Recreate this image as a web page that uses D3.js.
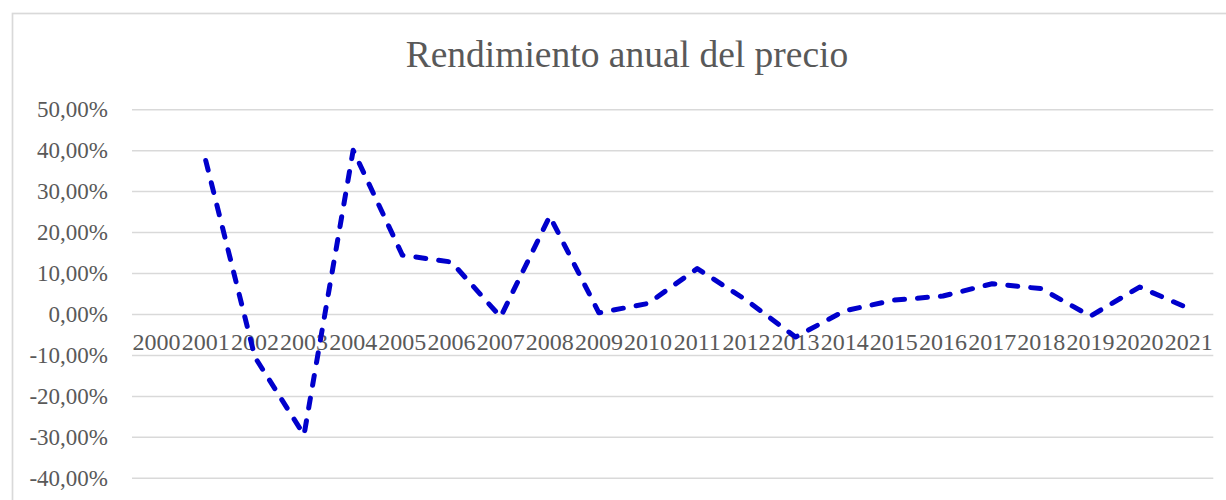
<!DOCTYPE html>
<html>
<head>
<meta charset="utf-8">
<script src="https://cdn.jsdelivr.net/npm/d3@7"></script>
<style>
  body { margin: 0; background: #fff; }
  svg { display: block; font-family: "Liberation Serif", "Times New Roman", serif; }
</style>
</head>
<body>
<svg width="1226" height="500"></svg>
<script>
// datos del grafico
const years = ["2000","2001","2002","2003","2004","2005","2006","2007","2008","2009","2010",
               "2011","2012","2013","2014","2015","2016","2017","2018","2019","2020","2021"];
const returns = [null, 0.376, -0.104, -0.294, 0.401, 0.145, 0.128, -0.006, 0.240, 0.004, 0.027,
                 0.112, 0.035, -0.055, 0.009, 0.035, 0.045, 0.075, 0.063, -0.004, 0.067, 0.015];
const yTicks = [-0.4, -0.3, -0.2, -0.1, 0, 0.1, 0.2, 0.3, 0.4, 0.5];
const title = "Rendimiento anual del precio";

const svg = d3.select("svg");

// marco del grafico (se sale del recorte por la derecha y abajo)
svg.append("rect")
    .attr("x", 12.5).attr("y", 13.5)
    .attr("width", 1240).attr("height", 520)
    .attr("fill", "#fff")
    .attr("stroke", "#d9d9d9")
    .attr("stroke-width", 1.7);

const x = d3.scaleBand().domain(years).range([132, 1213.3]).paddingInner(0).paddingOuter(0);
const y = d3.scaleLinear().domain([-0.4, 0.5]).range([478.3, 109.7]);

const fmt = v => d3.format(".2f")(v * 100).replace(".", ",").replace("\u2212", "-") + "%";

// lineas de cuadricula
svg.append("g")
    .selectAll("line")
    .data(yTicks)
    .enter()
    .append("line")
    .attr("x1", 132).attr("x2", 1213.3)
    .attr("y1", d => y(d)).attr("y2", d => y(d))
    .attr("stroke", "#d9d9d9")
    .attr("stroke-width", 1.5);

// etiquetas eje Y
svg.append("g")
    .selectAll("text")
    .data(yTicks)
    .enter()
    .append("text")
    .attr("x", 108)
    .attr("y", d => y(d))
    .attr("dy", "0.33em")
    .attr("text-anchor", "end")
    .attr("fill", "#595959")
    .style("font-size", "23px")
    .text(fmt);

// etiquetas eje X (junto al 0)
svg.append("g")
    .selectAll("text")
    .data(years)
    .enter()
    .append("text")
    .attr("x", d => x(d) + x.bandwidth() / 2)
    .attr("y", y(0) + 36)
    .attr("text-anchor", "middle")
    .attr("fill", "#595959")
    .style("font-size", "24px")
    .text(d => d);

// serie
const line = d3.line()
    .defined(d => d[1] != null)
    .x(d => x(d[0]) + x.bandwidth() / 2)
    .y(d => y(d[1]));

svg.append("path")
    .datum(years.map((yr, i) => [yr, returns[i]]))
    .attr("fill", "none")
    .attr("stroke", "#0000cc")
    .attr("stroke-width", 5)
    .attr("stroke-linecap", "round")
    .attr("stroke-linejoin", "round")
    .attr("stroke-dasharray", "10,13")
    .attr("d", line);

// titulo
svg.append("text")
    .attr("x", 627)
    .attr("y", 67)
    .attr("text-anchor", "middle")
    .attr("fill", "#595959")
    .style("font-size", "37.5px")
    .text(title);
</script>
</body>
</html>
